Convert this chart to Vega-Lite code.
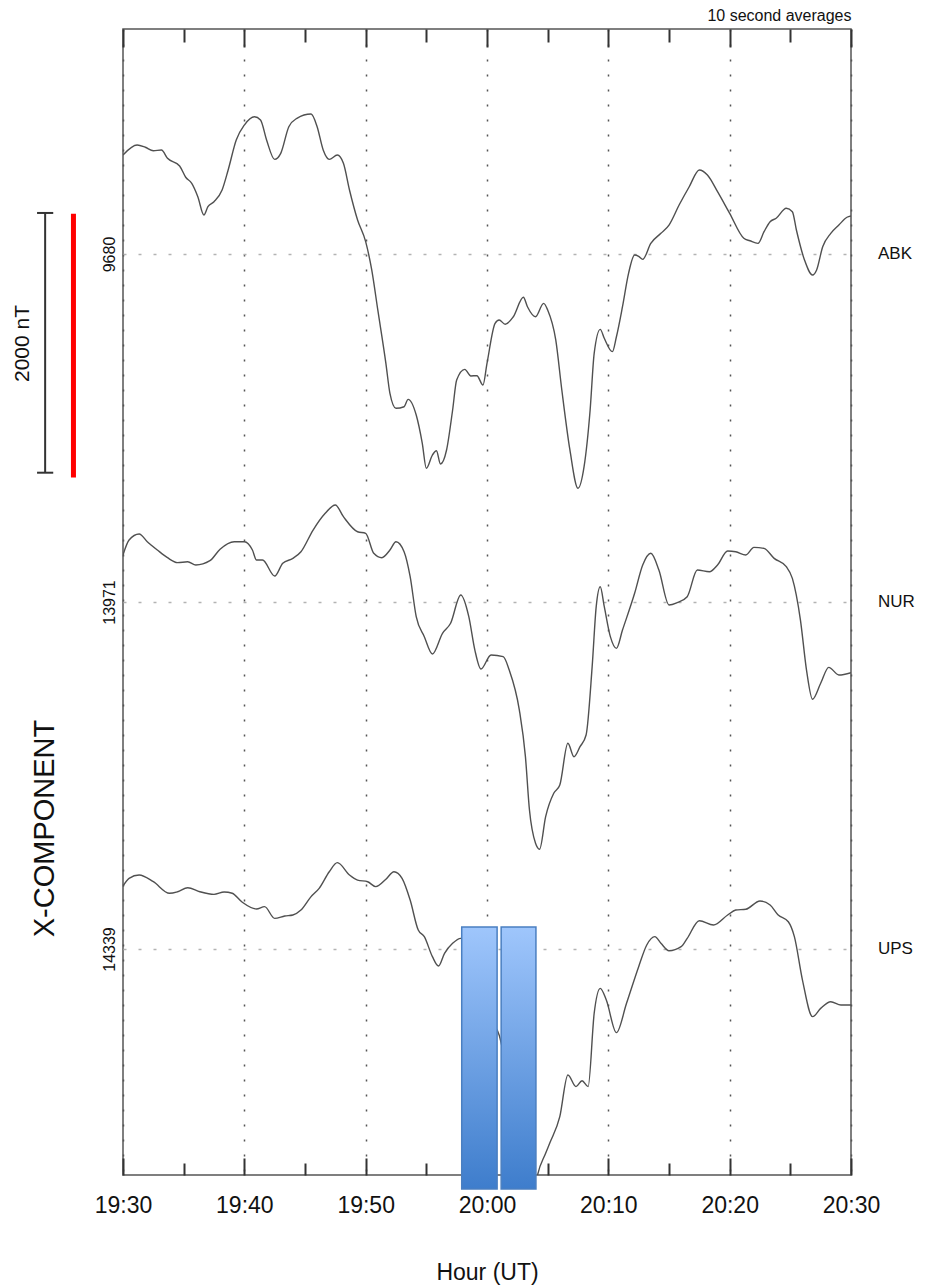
{
  "$schema": "https://vega.github.io/schema/vega-lite/v6.json",
  "width": 728,
  "height": 1146,
  "autosize": {"type": "none"},
  "padding": {"left": 123, "top": 29, "right": 79, "bottom": 111},
  "config": {
    "font": "Liberation Sans",
    "view": {"stroke": "#555", "strokeWidth": 1.5},
    "axis": {"labelFont": "Liberation Sans", "titleFont": "Liberation Sans", "labelColor": "#111", "titleColor": "#111"}
  },
  "resolve": {"scale": {"y": "independent"}, "axis": {"y": "independent", "x": "independent"}},
  "layer": [
    {
      "data": {"format": {"parse": {"t": "date:'%H:%M:%S'"}}, "values": [
        {"t": "19:30:00", "nT": 10442}, {"t": "19:31:10", "nT": 10519}, {"t": "19:31:50", "nT": 10502}, {"t": "19:32:30", "nT": 10475},
        {"t": "19:33:10", "nT": 10481}, {"t": "19:33:40", "nT": 10417}, {"t": "19:34:40", "nT": 10358}, {"t": "19:35:10", "nT": 10271},
        {"t": "19:35:40", "nT": 10224}, {"t": "19:36:10", "nT": 10121}, {"t": "19:36:40", "nT": 9980}, {"t": "19:37:00", "nT": 10044},
        {"t": "19:37:30", "nT": 10083}, {"t": "19:38:10", "nT": 10173}, {"t": "19:38:40", "nT": 10327}, {"t": "19:39:20", "nT": 10558},
        {"t": "19:40:00", "nT": 10673}, {"t": "19:40:50", "nT": 10737}, {"t": "19:41:20", "nT": 10712}, {"t": "19:41:50", "nT": 10558},
        {"t": "19:42:30", "nT": 10409}, {"t": "19:43:00", "nT": 10455}, {"t": "19:43:40", "nT": 10660}, {"t": "19:44:20", "nT": 10725},
        {"t": "19:45:30", "nT": 10758}, {"t": "19:46:00", "nT": 10660}, {"t": "19:46:30", "nT": 10481}, {"t": "19:47:00", "nT": 10409},
        {"t": "19:47:40", "nT": 10442}, {"t": "19:48:10", "nT": 10378}, {"t": "19:48:40", "nT": 10173}, {"t": "19:49:20", "nT": 9942},
        {"t": "19:50:00", "nT": 9775}, {"t": "19:50:30", "nT": 9557}, {"t": "19:51:00", "nT": 9249}, {"t": "19:51:40", "nT": 8838},
        {"t": "19:52:00", "nT": 8607}, {"t": "19:52:30", "nT": 8492}, {"t": "19:53:10", "nT": 8504}, {"t": "19:53:30", "nT": 8561},
        {"t": "19:54:10", "nT": 8440}, {"t": "19:54:40", "nT": 8222}, {"t": "19:55:00", "nT": 8030}, {"t": "19:55:30", "nT": 8132},
        {"t": "19:55:50", "nT": 8165}, {"t": "19:56:10", "nT": 8063}, {"t": "19:56:40", "nT": 8171}, {"t": "19:57:10", "nT": 8479},
        {"t": "19:57:30", "nT": 8710}, {"t": "19:58:10", "nT": 8792}, {"t": "19:58:40", "nT": 8741}, {"t": "19:59:10", "nT": 8743},
        {"t": "19:59:40", "nT": 8671}, {"t": "20:00:00", "nT": 8838}, {"t": "20:00:40", "nT": 9146}, {"t": "20:01:00", "nT": 9172},
        {"t": "20:01:30", "nT": 9139}, {"t": "20:02:10", "nT": 9197}, {"t": "20:03:00", "nT": 9347}, {"t": "20:03:20", "nT": 9274},
        {"t": "20:04:00", "nT": 9197}, {"t": "20:04:40", "nT": 9300}, {"t": "20:05:00", "nT": 9249}, {"t": "20:05:40", "nT": 9018},
        {"t": "20:06:10", "nT": 8633}, {"t": "20:06:50", "nT": 8171}, {"t": "20:07:30", "nT": 7876}, {"t": "20:08:00", "nT": 8042},
        {"t": "20:08:30", "nT": 8479}, {"t": "20:08:50", "nT": 8915}, {"t": "20:09:20", "nT": 9100}, {"t": "20:09:40", "nT": 9031},
        {"t": "20:10:20", "nT": 8928}, {"t": "20:10:40", "nT": 9043}, {"t": "20:11:10", "nT": 9274}, {"t": "20:11:40", "nT": 9531},
        {"t": "20:12:10", "nT": 9672}, {"t": "20:12:30", "nT": 9662}, {"t": "20:12:50", "nT": 9639}, {"t": "20:13:30", "nT": 9762},
        {"t": "20:14:20", "nT": 9839}, {"t": "20:15:00", "nT": 9903}, {"t": "20:15:50", "nT": 10057}, {"t": "20:16:40", "nT": 10198},
        {"t": "20:17:30", "nT": 10327}, {"t": "20:18:10", "nT": 10288}, {"t": "20:19:00", "nT": 10160}, {"t": "20:20:00", "nT": 9993},
        {"t": "20:21:10", "nT": 9801}, {"t": "20:21:40", "nT": 9782}, {"t": "20:22:20", "nT": 9762}, {"t": "20:22:50", "nT": 9852},
        {"t": "20:23:20", "nT": 9929}, {"t": "20:23:50", "nT": 9955}, {"t": "20:24:40", "nT": 10032}, {"t": "20:25:10", "nT": 10006},
        {"t": "20:25:30", "nT": 9865}, {"t": "20:26:10", "nT": 9634}, {"t": "20:26:50", "nT": 9518}, {"t": "20:27:10", "nT": 9557},
        {"t": "20:27:40", "nT": 9736}, {"t": "20:28:20", "nT": 9839}, {"t": "20:29:00", "nT": 9903}, {"t": "20:29:40", "nT": 9963},
        {"t": "20:30:00", "nT": 9973}
      ]},
      "mark": {"type": "line", "clip": true, "interpolate": "monotone", "stroke": "#505050", "strokeWidth": 1.4},
      "encoding": {
        "x": {"field": "t", "type": "temporal",
          "scale": {"domain": [{"year": 1900, "month": 1, "date": 1, "hours": 19, "minutes": 30}, {"year": 1900, "month": 1, "date": 1, "hours": 20, "minutes": 30}], "nice": false},
          "axis": {"orient": "bottom", "format": "%H:%M",
            "values": [{"year": 1900, "month": 1, "date": 1, "hours": 19, "minutes": 30}, {"year": 1900, "month": 1, "date": 1, "hours": 19, "minutes": 40}, {"year": 1900, "month": 1, "date": 1, "hours": 19, "minutes": 50}, {"year": 1900, "month": 1, "date": 1, "hours": 20, "minutes": 0}, {"year": 1900, "month": 1, "date": 1, "hours": 20, "minutes": 10}, {"year": 1900, "month": 1, "date": 1, "hours": 20, "minutes": 20}, {"year": 1900, "month": 1, "date": 1, "hours": 20, "minutes": 30}],
            "tickSize": -17, "tickWidth": 2, "tickColor": "#333", "labelFontSize": 23, "labelPadding": 36, "labelFlush": false, "labelOverlap": false,
            "domain": false, "grid": true, "gridDash": [2, 13], "gridColor": "#555", "gridWidth": 1.5,
            "title": "Hour (UT)", "titleFontSize": 23, "titleFontWeight": "normal", "titleY": 97, "titleBaseline": "middle"}},
        "y": {"field": "nT", "type": "quantitative",
          "scale": {"domain": [2588.3, 11412.5], "nice": false, "zero": false},
          "axis": {"orient": "left", "values": [9680], "format": "d", "labelAngle": -90, "labelAlign": "center", "labelBaseline": "alphabetic", "labelPadding": 9, "labelFontSize": 16,
            "ticks": false, "domain": false, "grid": true, "gridDash": [3, 12], "gridColor": "#b3b3b3", "gridWidth": 1.5, "title": null}}
      }
    },
    {
      "data": {"format": {"parse": {"t": "date:'%H:%M:%S'"}}, "values": [
        {"t": "19:30:00", "nT": 14333}, {"t": "19:30:30", "nT": 14448}, {"t": "19:31:20", "nT": 14495}, {"t": "19:32:00", "nT": 14435},
        {"t": "19:32:50", "nT": 14371}, {"t": "19:33:40", "nT": 14312}, {"t": "19:34:30", "nT": 14274}, {"t": "19:35:20", "nT": 14281},
        {"t": "19:36:00", "nT": 14256}, {"t": "19:37:10", "nT": 14289}, {"t": "19:38:00", "nT": 14377}, {"t": "19:39:10", "nT": 14435},
        {"t": "19:40:00", "nT": 14435}, {"t": "19:40:40", "nT": 14371}, {"t": "19:41:00", "nT": 14294}, {"t": "19:41:30", "nT": 14294},
        {"t": "19:42:30", "nT": 14171}, {"t": "19:43:10", "nT": 14269}, {"t": "19:44:00", "nT": 14307}, {"t": "19:44:40", "nT": 14358},
        {"t": "19:45:40", "nT": 14525}, {"t": "19:46:40", "nT": 14654}, {"t": "19:47:30", "nT": 14718}, {"t": "19:48:10", "nT": 14628},
        {"t": "19:49:20", "nT": 14512}, {"t": "19:50:00", "nT": 14500}, {"t": "19:50:40", "nT": 14346}, {"t": "19:51:20", "nT": 14312},
        {"t": "19:52:00", "nT": 14371}, {"t": "19:52:30", "nT": 14435}, {"t": "19:53:10", "nT": 14358}, {"t": "19:53:40", "nT": 14166},
        {"t": "19:54:10", "nT": 13858}, {"t": "19:54:50", "nT": 13704}, {"t": "19:55:30", "nT": 13571}, {"t": "19:56:20", "nT": 13730},
        {"t": "19:57:00", "nT": 13807}, {"t": "19:57:50", "nT": 14025}, {"t": "19:58:30", "nT": 13858}, {"t": "19:59:00", "nT": 13601},
        {"t": "19:59:30", "nT": 13455}, {"t": "20:00:20", "nT": 13563}, {"t": "20:01:20", "nT": 13550}, {"t": "20:01:50", "nT": 13447},
        {"t": "20:02:40", "nT": 13139}, {"t": "20:03:10", "nT": 12780}, {"t": "20:03:30", "nT": 12369}, {"t": "20:04:00", "nT": 12113},
        {"t": "20:04:20", "nT": 12067}, {"t": "20:04:50", "nT": 12318}, {"t": "20:05:30", "nT": 12498}, {"t": "20:06:00", "nT": 12562},
        {"t": "20:06:40", "nT": 12883}, {"t": "20:07:10", "nT": 12780}, {"t": "20:07:40", "nT": 12857}, {"t": "20:08:10", "nT": 12947},
        {"t": "20:08:40", "nT": 13473}, {"t": "20:09:00", "nT": 13935}, {"t": "20:09:20", "nT": 14089}, {"t": "20:09:40", "nT": 13935},
        {"t": "20:10:10", "nT": 13704}, {"t": "20:10:40", "nT": 13614}, {"t": "20:11:10", "nT": 13755}, {"t": "20:12:10", "nT": 14038},
        {"t": "20:12:50", "nT": 14256}, {"t": "20:13:30", "nT": 14346}, {"t": "20:14:10", "nT": 14217}, {"t": "20:15:00", "nT": 13948},
        {"t": "20:15:40", "nT": 13966}, {"t": "20:16:30", "nT": 14012}, {"t": "20:17:20", "nT": 14217}, {"t": "20:18:20", "nT": 14204},
        {"t": "20:19:00", "nT": 14256}, {"t": "20:19:50", "nT": 14364}, {"t": "20:20:30", "nT": 14358}, {"t": "20:21:20", "nT": 14333},
        {"t": "20:22:00", "nT": 14392}, {"t": "20:22:50", "nT": 14384}, {"t": "20:23:40", "nT": 14307}, {"t": "20:24:40", "nT": 14243},
        {"t": "20:25:10", "nT": 14153}, {"t": "20:25:50", "nT": 13832}, {"t": "20:26:20", "nT": 13447}, {"t": "20:26:50", "nT": 13222},
        {"t": "20:27:30", "nT": 13345}, {"t": "20:28:10", "nT": 13468}, {"t": "20:29:00", "nT": 13409}, {"t": "20:30:00", "nT": 13427}
      ]},
      "mark": {"type": "line", "clip": true, "interpolate": "monotone", "stroke": "#505050", "strokeWidth": 1.4},
      "encoding": {
        "x": {"field": "t", "type": "temporal",
          "scale": {"domain": [{"year": 1900, "month": 1, "date": 1, "hours": 19, "minutes": 30}, {"year": 1900, "month": 1, "date": 1, "hours": 20, "minutes": 30}], "nice": false},
          "axis": {"orient": "bottom",
            "values": [{"year": 1900, "month": 1, "date": 1, "hours": 19, "minutes": 35}, {"year": 1900, "month": 1, "date": 1, "hours": 19, "minutes": 45}, {"year": 1900, "month": 1, "date": 1, "hours": 19, "minutes": 55}, {"year": 1900, "month": 1, "date": 1, "hours": 20, "minutes": 5}, {"year": 1900, "month": 1, "date": 1, "hours": 20, "minutes": 15}, {"year": 1900, "month": 1, "date": 1, "hours": 20, "minutes": 25}],
            "tickSize": -12, "tickWidth": 2, "tickColor": "#333", "labels": false, "domain": false, "grid": false, "title": null}},
        "y": {"field": "nT", "type": "quantitative",
          "scale": {"domain": [9558.9, 18383.1], "nice": false, "zero": false},
          "axis": {"orient": "left", "values": [13971], "format": "d", "labelAngle": -90, "labelAlign": "center", "labelBaseline": "alphabetic", "labelPadding": 9, "labelFontSize": 16,
            "ticks": false, "domain": false, "grid": true, "gridDash": [3, 12], "gridColor": "#b3b3b3", "gridWidth": 1.5,
            "title": "2000 nT", "titleFontSize": 21, "titleFontWeight": "normal", "titleAngle": -90, "titleAlign": "center", "titleBaseline": "middle", "titleX": -101, "titleY": 314}}
      }
    },
    {
      "data": {"format": {"parse": {"t": "date:'%H:%M:%S'"}}, "values": [
        {"t": "19:30:00", "nT": 14824}, {"t": "19:30:30", "nT": 14883}, {"t": "19:31:20", "nT": 14909}, {"t": "19:32:30", "nT": 14857},
        {"t": "19:33:50", "nT": 14768}, {"t": "19:34:30", "nT": 14780}, {"t": "19:35:20", "nT": 14811}, {"t": "19:36:20", "nT": 14780},
        {"t": "19:37:30", "nT": 14760}, {"t": "19:38:20", "nT": 14778}, {"t": "19:39:00", "nT": 14768}, {"t": "19:39:50", "nT": 14699},
        {"t": "19:41:00", "nT": 14647}, {"t": "19:41:40", "nT": 14665}, {"t": "19:42:30", "nT": 14575}, {"t": "19:43:20", "nT": 14593},
        {"t": "19:44:00", "nT": 14601}, {"t": "19:44:40", "nT": 14639}, {"t": "19:45:30", "nT": 14742}, {"t": "19:46:10", "nT": 14806},
        {"t": "19:47:00", "nT": 14934}, {"t": "19:47:40", "nT": 15004}, {"t": "19:48:40", "nT": 14909}, {"t": "19:49:20", "nT": 14870},
        {"t": "19:50:10", "nT": 14857}, {"t": "19:50:50", "nT": 14819}, {"t": "19:51:40", "nT": 14876}, {"t": "19:52:20", "nT": 14934},
        {"t": "19:53:00", "nT": 14883}, {"t": "19:53:40", "nT": 14716}, {"t": "19:54:20", "nT": 14485}, {"t": "19:54:50", "nT": 14434},
        {"t": "19:55:30", "nT": 14280}, {"t": "19:56:00", "nT": 14208}, {"t": "19:56:30", "nT": 14306}, {"t": "19:57:10", "nT": 14383},
        {"t": "19:57:50", "nT": 14421}, {"t": "19:58:40", "nT": 14254}, {"t": "19:59:30", "nT": 13985}, {"t": "20:00:20", "nT": 13792},
        {"t": "20:01:00", "nT": 13677}, {"t": "20:01:50", "nT": 13292}, {"t": "20:02:40", "nT": 12868}, {"t": "20:03:30", "nT": 12480},
        {"t": "20:03:50", "nT": 12430}, {"t": "20:04:10", "nT": 12599}, {"t": "20:04:50", "nT": 12766}, {"t": "20:05:10", "nT": 12843},
        {"t": "20:06:00", "nT": 13048}, {"t": "20:06:40", "nT": 13369}, {"t": "20:07:20", "nT": 13279}, {"t": "20:07:50", "nT": 13325},
        {"t": "20:08:20", "nT": 13279}, {"t": "20:08:50", "nT": 13844}, {"t": "20:09:20", "nT": 14036}, {"t": "20:09:50", "nT": 13946},
        {"t": "20:10:40", "nT": 13695}, {"t": "20:11:30", "nT": 13921}, {"t": "20:12:30", "nT": 14203}, {"t": "20:13:10", "nT": 14370},
        {"t": "20:13:50", "nT": 14434}, {"t": "20:14:20", "nT": 14383}, {"t": "20:15:00", "nT": 14326}, {"t": "20:16:00", "nT": 14357},
        {"t": "20:16:30", "nT": 14421}, {"t": "20:17:30", "nT": 14557}, {"t": "20:18:40", "nT": 14524}, {"t": "20:19:50", "nT": 14601},
        {"t": "20:20:30", "nT": 14639}, {"t": "20:21:20", "nT": 14645}, {"t": "20:22:30", "nT": 14709}, {"t": "20:23:20", "nT": 14678},
        {"t": "20:24:00", "nT": 14601}, {"t": "20:24:50", "nT": 14549}, {"t": "20:25:20", "nT": 14434}, {"t": "20:26:00", "nT": 14100},
        {"t": "20:26:50", "nT": 13818}, {"t": "20:27:30", "nT": 13882}, {"t": "20:28:20", "nT": 13933}, {"t": "20:29:10", "nT": 13908},
        {"t": "20:30:00", "nT": 13908}
      ]},
      "mark": {"type": "line", "clip": true, "interpolate": "monotone", "stroke": "#505050", "strokeWidth": 1.4},
      "encoding": {
        "x": {"field": "t", "type": "temporal",
          "scale": {"domain": [{"year": 1900, "month": 1, "date": 1, "hours": 19, "minutes": 30}, {"year": 1900, "month": 1, "date": 1, "hours": 20, "minutes": 30}], "nice": false},
          "axis": {"orient": "top",
            "values": [{"year": 1900, "month": 1, "date": 1, "hours": 19, "minutes": 30}, {"year": 1900, "month": 1, "date": 1, "hours": 19, "minutes": 40}, {"year": 1900, "month": 1, "date": 1, "hours": 19, "minutes": 50}, {"year": 1900, "month": 1, "date": 1, "hours": 20, "minutes": 0}, {"year": 1900, "month": 1, "date": 1, "hours": 20, "minutes": 10}, {"year": 1900, "month": 1, "date": 1, "hours": 20, "minutes": 20}, {"year": 1900, "month": 1, "date": 1, "hours": 20, "minutes": 30}],
            "tickSize": -18, "tickWidth": 2, "tickColor": "#333", "labels": false, "domain": false, "grid": false,
            "title": "10 second averages", "titleFontSize": 16, "titleFontWeight": "normal", "titleX": 728, "titleY": -9, "titleAlign": "right", "titleBaseline": "alphabetic"}},
        "y": {"field": "nT", "type": "quantitative",
          "scale": {"domain": [12598.8, 21423.0], "nice": false, "zero": false},
          "axis": {"orient": "left", "values": [14339], "format": "d", "labelAngle": -90, "labelAlign": "center", "labelBaseline": "alphabetic", "labelPadding": 9, "labelFontSize": 16,
            "ticks": false, "domain": false, "grid": true, "gridDash": [3, 12], "gridColor": "#b3b3b3", "gridWidth": 1.5,
            "title": "X-COMPONENT", "titleFontSize": 29, "titleFontWeight": "normal", "titleAngle": -90, "titleAlign": "center", "titleBaseline": "middle", "titleX": -79, "titleY": 799}}
      }
    },
    {
      "data": {"format": {"parse": {"t": "date:'%H:%M:%S'"}}, "values": [{"t": "19:23:35", "top": 9996, "bottom": 7996}]},
      "mark": {"type": "rule", "clip": false, "stroke": "#333", "strokeWidth": 2},
      "encoding": {
        "x": {"field": "t", "type": "temporal",
          "scale": {"domain": [{"year": 1900, "month": 1, "date": 1, "hours": 19, "minutes": 30}, {"year": 1900, "month": 1, "date": 1, "hours": 20, "minutes": 30}], "nice": false},
          "axis": {"orient": "top",
            "values": [{"year": 1900, "month": 1, "date": 1, "hours": 19, "minutes": 35}, {"year": 1900, "month": 1, "date": 1, "hours": 19, "minutes": 45}, {"year": 1900, "month": 1, "date": 1, "hours": 19, "minutes": 55}, {"year": 1900, "month": 1, "date": 1, "hours": 20, "minutes": 5}, {"year": 1900, "month": 1, "date": 1, "hours": 20, "minutes": 15}, {"year": 1900, "month": 1, "date": 1, "hours": 20, "minutes": 25}],
            "tickSize": -13, "tickWidth": 2, "tickColor": "#333", "labels": false, "domain": false, "grid": false, "title": null}},
        "y": {"field": "top", "type": "quantitative", "scale": {"domain": [2588.3, 11412.5], "nice": false, "zero": false}, "axis": null},
        "y2": {"field": "bottom"}
      }
    },
    {
      "data": {"format": {"parse": {"t1": "date:'%H:%M:%S'", "t2": "date:'%H:%M:%S'"}}, "values": [
        {"t1": "19:22:55", "t2": "19:24:15", "v": 9996},
        {"t1": "19:22:55", "t2": "19:24:15", "v": 7996}
      ]},
      "mark": {"type": "rule", "clip": false, "stroke": "#333", "strokeWidth": 2},
      "encoding": {
        "x": {"field": "t1", "type": "temporal", "scale": {"domain": [{"year": 1900, "month": 1, "date": 1, "hours": 19, "minutes": 30}, {"year": 1900, "month": 1, "date": 1, "hours": 20, "minutes": 30}], "nice": false}, "axis": null},
        "x2": {"field": "t2"},
        "y": {"field": "v", "type": "quantitative", "scale": {"domain": [2588.3, 11412.5], "nice": false, "zero": false}, "axis": null}
      }
    },
    {
      "data": {"format": {"parse": {"t": "date:'%H:%M:%S'"}}, "values": [{"t": "19:25:55", "top": 9990, "bottom": 7960}]},
      "mark": {"type": "rule", "clip": false, "stroke": "#ff0000", "strokeWidth": 5},
      "encoding": {
        "x": {"field": "t", "type": "temporal", "scale": {"domain": [{"year": 1900, "month": 1, "date": 1, "hours": 19, "minutes": 30}, {"year": 1900, "month": 1, "date": 1, "hours": 20, "minutes": 30}], "nice": false}, "axis": null},
        "y": {"field": "top", "type": "quantitative", "scale": {"domain": [2588.3, 11412.5], "nice": false, "zero": false}, "axis": null},
        "y2": {"field": "bottom"}
      }
    },
    {
      "data": {"format": {"parse": {"t": "date:'%H:%M:%S'"}}, "values": [{"t": "20:30:00", "nT": 9680, "station": "ABK"}]},
      "mark": {"type": "text", "align": "left", "baseline": "middle", "dx": 27, "fontSize": 17, "color": "#111", "clip": false},
      "encoding": {
        "x": {"field": "t", "type": "temporal", "scale": {"domain": [{"year": 1900, "month": 1, "date": 1, "hours": 19, "minutes": 30}, {"year": 1900, "month": 1, "date": 1, "hours": 20, "minutes": 30}], "nice": false}, "axis": null},
        "y": {"field": "nT", "type": "quantitative", "scale": {"domain": [2588.3, 11412.5], "nice": false, "zero": false}, "axis": null},
        "text": {"field": "station"}
      }
    },
    {
      "data": {"format": {"parse": {"t": "date:'%H:%M:%S'"}}, "values": [{"t": "20:30:00", "nT": 13971, "station": "NUR"}]},
      "mark": {"type": "text", "align": "left", "baseline": "middle", "dx": 27, "fontSize": 17, "color": "#111", "clip": false},
      "encoding": {
        "x": {"field": "t", "type": "temporal", "scale": {"domain": [{"year": 1900, "month": 1, "date": 1, "hours": 19, "minutes": 30}, {"year": 1900, "month": 1, "date": 1, "hours": 20, "minutes": 30}], "nice": false}, "axis": null},
        "y": {"field": "nT", "type": "quantitative", "scale": {"domain": [9558.9, 18383.1], "nice": false, "zero": false}, "axis": null},
        "text": {"field": "station"}
      }
    },
    {
      "data": {"format": {"parse": {"t": "date:'%H:%M:%S'"}}, "values": [{"t": "20:30:00", "nT": 14339, "station": "UPS"}]},
      "mark": {"type": "text", "align": "left", "baseline": "middle", "dx": 27, "fontSize": 17, "color": "#111", "clip": false},
      "encoding": {
        "x": {"field": "t", "type": "temporal", "scale": {"domain": [{"year": 1900, "month": 1, "date": 1, "hours": 19, "minutes": 30}, {"year": 1900, "month": 1, "date": 1, "hours": 20, "minutes": 30}], "nice": false}, "axis": null},
        "y": {"field": "nT", "type": "quantitative", "scale": {"domain": [12598.8, 21423.0], "nice": false, "zero": false}, "axis": null},
        "text": {"field": "station"}
      }
    },
    {
      "data": {"format": {"parse": {"t1": "date:'%H:%M:%S'", "t2": "date:'%H:%M:%S'"}}, "values": [
        {"t1": "19:57:55", "t2": "20:00:50", "top": 14508, "bottom": 12491},
        {"t1": "20:01:10", "t2": "20:04:02", "top": 14508, "bottom": 12491}
      ]},
      "mark": {"type": "rect", "clip": false, "stroke": "#4a7fc1", "strokeWidth": 1.5,
        "fill": {"gradient": "linear", "x1": 0, "y1": 0, "x2": 0, "y2": 1, "stops": [{"offset": 0, "color": "#9fc6fc"}, {"offset": 1, "color": "#3e7dcc"}]}},
      "encoding": {
        "x": {"field": "t1", "type": "temporal", "scale": {"domain": [{"year": 1900, "month": 1, "date": 1, "hours": 19, "minutes": 30}, {"year": 1900, "month": 1, "date": 1, "hours": 20, "minutes": 30}], "nice": false}, "axis": null},
        "x2": {"field": "t2"},
        "y": {"field": "top", "type": "quantitative", "scale": {"domain": [12598.8, 21423.0], "nice": false, "zero": false}, "axis": null},
        "y2": {"field": "bottom"}
      }
    }
  ]
}
